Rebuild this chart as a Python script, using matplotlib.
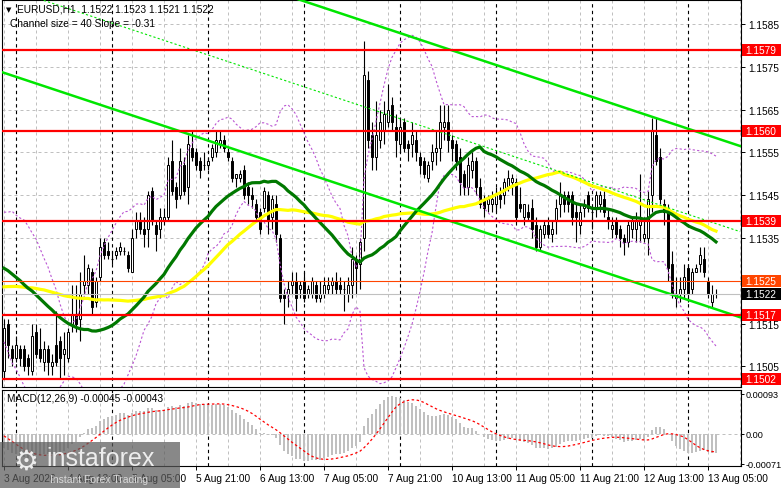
import numpy as np
import pandas as pd
import matplotlib
matplotlib.use("Agg")
import matplotlib.pyplot as plt
import matplotlib.transforms as mtransforms
from matplotlib.patches import Rectangle

plt.rcParams['font.family'] = ['Liberation Sans', 'DejaVu Sans']

# closes of the 50 hours before the first visible bar (estimated, needed for the indicators)
hist_close = [
    1.1505, 1.1507, 1.1506, 1.1509, 1.1511, 1.1510, 1.1513, 1.1512, 1.1515, 1.1517,
    1.1516, 1.1519, 1.1518, 1.1521, 1.1520, 1.1523, 1.1522, 1.1524, 1.1526, 1.1525,
    1.1528, 1.1527, 1.1530, 1.1532, 1.1531, 1.1533, 1.1530, 1.1532, 1.1535, 1.1534,
    1.1536, 1.1533, 1.1531, 1.1534, 1.1532, 1.1530, 1.1533, 1.1531, 1.1529, 1.1532,
    1.1530, 1.1528, 1.1529, 1.1526, 1.1527, 1.1523, 1.1520, 1.1516, 1.1512, 1.1508,
]

# visible H1 bars, bar 0 = 4 Aug 00:00
first_bar = -3
opens = [
    1.1504, 1.1515, 1.1509, 1.1507, 1.1509, 1.1509, 1.1507, 1.1504, 1.1513, 1.1509,
    1.1506, 1.1509, 1.1505, 1.1510, 1.1511, 1.1508, 1.1507, 1.1515, 1.1517, 1.1516,
    1.1524, 1.1524, 1.1527, 1.1520, 1.1526, 1.1534, 1.1532, 1.1530, 1.1531, 1.1532,
    1.1532, 1.1531, 1.1527, 1.1537, 1.1539, 1.1537, 1.1537, 1.1546, 1.1538, 1.1537,
    1.1539, 1.1540, 1.1553, 1.1547, 1.1545, 1.1552, 1.1547, 1.1556, 1.1555, 1.1553,
    1.1552, 1.1552, 1.1554, 1.1555, 1.1557, 1.1558, 1.1555, 1.1553, 1.1549, 1.1549,
    1.1551, 1.1547, 1.1545, 1.1543, 1.1541, 1.1542, 1.1545, 1.1540, 1.1543, 1.1535,
    1.1522, 1.1522, 1.1524, 1.1525, 1.1523, 1.1525, 1.1522, 1.1522, 1.1524, 1.1521,
    1.1522, 1.1523, 1.1524, 1.1525, 1.1524, 1.1523, 1.1522, 1.1524, 1.1530, 1.1529,
    1.1535, 1.1572, 1.1559, 1.1554, 1.1558, 1.1560, 1.1562, 1.1566, 1.1561, 1.1557,
    1.1562, 1.1557, 1.1557, 1.1558, 1.1554, 1.1553, 1.1549, 1.1553, 1.1555, 1.1556,
    1.1561, 1.1562, 1.1558, 1.1557, 1.1554, 1.1550, 1.1547, 1.1551, 1.1553, 1.1547,
    1.1544, 1.1543, 1.1543, 1.1543, 1.1545, 1.1545, 1.1547, 1.1548, 1.1548, 1.1543,
    1.1540, 1.1541, 1.1542, 1.1538, 1.1533, 1.1536, 1.1538, 1.1536, 1.1539, 1.1543,
    1.1545, 1.1545, 1.1545, 1.1541, 1.1538, 1.1542, 1.1545, 1.1541, 1.1542, 1.1543,
    1.1544, 1.1540, 1.1537, 1.1539, 1.1537, 1.1535, 1.1534, 1.1537, 1.1537, 1.1538,
    1.1535, 1.1535, 1.1545, 1.1559, 1.1554, 1.1543, 1.1541, 1.1529, 1.1521, 1.1522,
    1.1523, 1.1528, 1.1523, 1.1527, 1.1529, 1.1530, 1.1525, 1.1520, 1.1522,
]
highs = [
    1.1516, 1.1516, 1.1510, 1.1512, 1.1510, 1.1510, 1.1508, 1.1515, 1.1515, 1.1514,
    1.1511, 1.1510, 1.1508, 1.1518, 1.1512, 1.1513, 1.1514, 1.1524, 1.1524, 1.1527,
    1.1531, 1.1529, 1.1528, 1.1526, 1.1535, 1.1535, 1.1534, 1.1532, 1.1533, 1.1534,
    1.1533, 1.1532, 1.1537, 1.1541, 1.1541, 1.1540, 1.1546, 1.1547, 1.1539, 1.1542,
    1.1542, 1.1554, 1.1558, 1.1548, 1.1556, 1.1554, 1.1559, 1.1560, 1.1556, 1.1554,
    1.1555, 1.1554, 1.1557, 1.1560, 1.1560, 1.1559, 1.1556, 1.1554, 1.1550, 1.1551,
    1.1552, 1.1548, 1.1547, 1.1544, 1.1542, 1.1547, 1.1546, 1.1545, 1.1545, 1.1536,
    1.1523, 1.1525, 1.1527, 1.1527, 1.1525, 1.1527, 1.1524, 1.1526, 1.1525, 1.1525,
    1.1526, 1.1526, 1.1526, 1.1527, 1.1526, 1.1525, 1.1526, 1.1533, 1.1531, 1.1535,
    1.1581, 1.1574, 1.1562, 1.1567, 1.1565, 1.1567, 1.1571, 1.1568, 1.1564, 1.1563,
    1.1563, 1.1558, 1.1562, 1.1560, 1.1555, 1.1554, 1.1553, 1.1557, 1.1560, 1.1566,
    1.1566, 1.1566, 1.1559, 1.1558, 1.1556, 1.1551, 1.1554, 1.1555, 1.1554, 1.1549,
    1.1545, 1.1545, 1.1546, 1.1547, 1.1547, 1.1549, 1.1551, 1.1550, 1.1549, 1.1547,
    1.1543, 1.1543, 1.1544, 1.1540, 1.1538, 1.1539, 1.1540, 1.1539, 1.1544, 1.1548,
    1.1546, 1.1546, 1.1546, 1.1543, 1.1543, 1.1544, 1.1546, 1.1542, 1.1546, 1.1546,
    1.1546, 1.1542, 1.1540, 1.1540, 1.1538, 1.1536, 1.1539, 1.1540, 1.1541, 1.1550,
    1.1540, 1.1546, 1.1563, 1.1563, 1.1556, 1.1544, 1.1543, 1.1532, 1.1526, 1.1526,
    1.1529, 1.1529, 1.1528, 1.1529, 1.1533, 1.1533, 1.1526, 1.1524, 1.1523,
]
lows = [
    1.1502, 1.1507, 1.1505, 1.1506, 1.1505, 1.1504, 1.1503, 1.1503, 1.1507, 1.1506,
    1.1504, 1.1503, 1.1503, 1.1505, 1.1502, 1.1503, 1.1506, 1.1513, 1.1513, 1.1511,
    1.1522, 1.1522, 1.1517, 1.1519, 1.1525, 1.1530, 1.1530, 1.1529, 1.1530, 1.1531,
    1.1531, 1.1527, 1.1527, 1.1535, 1.1536, 1.1533, 1.1533, 1.1538, 1.1532, 1.1535,
    1.1538, 1.1539, 1.1545, 1.1542, 1.1544, 1.1545, 1.1543, 1.1553, 1.1551, 1.1549,
    1.1551, 1.1551, 1.1553, 1.1554, 1.1556, 1.1555, 1.1553, 1.1548, 1.1547, 1.1548,
    1.1544, 1.1543, 1.1542, 1.1539, 1.1536, 1.1541, 1.1536, 1.1537, 1.1534, 1.1520,
    1.1515, 1.1519, 1.1522, 1.1518, 1.1521, 1.1520, 1.1521, 1.1521, 1.1520, 1.1520,
    1.1521, 1.1522, 1.1522, 1.1522, 1.1522, 1.1518, 1.1520, 1.1521, 1.1522, 1.1523,
    1.1532, 1.1556, 1.1551, 1.1551, 1.1556, 1.1557, 1.1561, 1.1560, 1.1554, 1.1555,
    1.1555, 1.1553, 1.1554, 1.1553, 1.1550, 1.1549, 1.1548, 1.1551, 1.1552, 1.1553,
    1.1558, 1.1555, 1.1553, 1.1551, 1.1545, 1.1545, 1.1545, 1.1549, 1.1545, 1.1542,
    1.1540, 1.1541, 1.1541, 1.1541, 1.1542, 1.1543, 1.1546, 1.1545, 1.1538, 1.1541,
    1.1538, 1.1539, 1.1535, 1.1532, 1.1532, 1.1535, 1.1535, 1.1534, 1.1536, 1.1540,
    1.1541, 1.1541, 1.1538, 1.1534, 1.1536, 1.1540, 1.1541, 1.1537, 1.1540, 1.1541,
    1.1540, 1.1537, 1.1535, 1.1535, 1.1533, 1.1531, 1.1533, 1.1535, 1.1534, 1.1534,
    1.1534, 1.1531, 1.1541, 1.1552, 1.1543, 1.1538, 1.1525, 1.1521, 1.1519, 1.1520,
    1.1521, 1.1520, 1.1522, 1.1527, 1.1527, 1.1526, 1.1521, 1.1519, 1.1521,
]
closes = [
    1.1514, 1.1510, 1.1507, 1.1510, 1.1507, 1.1505, 1.1505, 1.1512, 1.1508, 1.1507,
    1.1509, 1.1506, 1.1506, 1.1506, 1.1507, 1.1509, 1.1513, 1.1517, 1.1515, 1.1522,
    1.1525, 1.1528, 1.1519, 1.1525, 1.1533, 1.1531, 1.1531, 1.1530, 1.1532, 1.1533,
    1.1532, 1.1528, 1.1535, 1.1539, 1.1537, 1.1536, 1.1545, 1.1539, 1.1536, 1.1540,
    1.1540, 1.1552, 1.1546, 1.1544, 1.1553, 1.1546, 1.1557, 1.1554, 1.1552, 1.1551,
    1.1552, 1.1553, 1.1556, 1.1558, 1.1558, 1.1556, 1.1554, 1.1549, 1.1550, 1.1550,
    1.1545, 1.1545, 1.1544, 1.1540, 1.1537, 1.1546, 1.1539, 1.1544, 1.1536, 1.1521,
    1.1521, 1.1523, 1.1525, 1.1521, 1.1524, 1.1521, 1.1523, 1.1525, 1.1521, 1.1522,
    1.1524, 1.1524, 1.1525, 1.1523, 1.1523, 1.1523, 1.1524, 1.1530, 1.1528, 1.1534,
    1.1573, 1.1558, 1.1554, 1.1559, 1.1562, 1.1564, 1.1565, 1.1562, 1.1558, 1.1561,
    1.1556, 1.1556, 1.1559, 1.1555, 1.1552, 1.1550, 1.1552, 1.1555, 1.1556, 1.1562,
    1.1562, 1.1558, 1.1556, 1.1553, 1.1548, 1.1547, 1.1552, 1.1553, 1.1547, 1.1543,
    1.1542, 1.1544, 1.1544, 1.1545, 1.1544, 1.1548, 1.1549, 1.1549, 1.1540, 1.1542,
    1.1543, 1.1540, 1.1537, 1.1533, 1.1537, 1.1538, 1.1536, 1.1537, 1.1542, 1.1545,
    1.1543, 1.1543, 1.1540, 1.1540, 1.1541, 1.1543, 1.1542, 1.1541, 1.1545, 1.1545,
    1.1541, 1.1539, 1.1538, 1.1536, 1.1535, 1.1534, 1.1538, 1.1539, 1.1539, 1.1539,
    1.1536, 1.1544, 1.1560, 1.1553, 1.1544, 1.1541, 1.1528, 1.1522, 1.1522, 1.1523,
    1.1526, 1.1522, 1.1527, 1.1528, 1.1531, 1.1527, 1.1522, 1.1522, 1.1522,
]

levels = [1.1579, 1.1560, 1.1539, 1.1517, 1.1502]
ask_level = 1.1525
bid_level = 1.1522

# price channel: lower line end points (bar, price), width 40 pips
chan_start = (-4, 1.15739)
chan_end = (181, 1.15165)
chan_width = 0.0040

xlabels = ["3 Aug 2026", "4 Aug 13:00", "5 Aug 05:00", "5 Aug 21:00", "6 Aug 13:00",
           "7 Aug 05:00", "7 Aug 21:00", "10 Aug 13:00", "11 Aug 05:00", "11 Aug 21:00",
           "12 Aug 13:00", "13 Aug 05:00"]
xlabel_bars = [-3, 13, 29, 45, 61, 77, 93, 109, 125, 141, 157, 173]
day_bars = [0, 24, 48, 72, 96, 120, 144, 168]
price_ticks = [1.1505, 1.1515, 1.1525, 1.1535, 1.1545, 1.1555, 1.1565, 1.1575, 1.1585]
macd_ticks = [0.00093, 0.0, -0.00071]
macd_labels = ["0.00093", "0.00", "-0.00071"]

# indicators
n_hist = len(hist_close)
all_close = pd.Series(hist_close + closes)
ma30 = all_close.rolling(30).mean().iloc[n_hist:].values
ma50 = all_close.rolling(50).mean().iloc[n_hist:].values
bb_mid = all_close.rolling(20).mean()
bb_std = all_close.rolling(20).std(ddof=0)
bb_up = (bb_mid + 2 * bb_std).iloc[n_hist:].values
bb_dn = (bb_mid - 2 * bb_std).iloc[n_hist:].values
ema12 = all_close.ewm(span=12, adjust=False).mean()
ema26 = all_close.ewm(span=26, adjust=False).mean()
macd_all = ema12 - ema26
macd = macd_all.iloc[n_hist:].values
signal = macd_all.rolling(9).mean().iloc[n_hist:].values

bars = np.arange(first_bar, first_bar + len(closes))
o = np.array(opens)
h = np.array(highs)
l = np.array(lows)
c = np.array(closes)

W, H = 781, 489
fig = plt.figure(figsize=(W / 100, H / 100), dpi=100)
fig.patch.set_facecolor("white")
ax = fig.add_axes([2 / W, 1 - 388 / H, 739 / W, 387 / H])
axm = fig.add_axes([2 / W, 1 - 467 / H, 739 / W, 76 / H])

xmin, xmax = -3.5, 181.25
grid_kw = dict(color="#C0C0C0", lw=0.72, dashes=(3, 3), zorder=0.5)
sep_kw = dict(color="black", lw=0.8, dashes=(3, 3), zorder=0.6)

for a in (ax, axm):
    a.set_xlim(xmin, xmax)
    for g in range(-3, 182, 8):
        a.axvline(g, **grid_kw)
    for d in day_bars:
        a.axvline(d, **sep_kw)
    for s in a.spines.values():
        s.set_linewidth(0.8)
        s.set_color("black")

# main chart
ax.set_ylim(1.15002, 1.15906)
for p in price_ticks:
    ax.axhline(p, **grid_kw)

ax.vlines(bars, l, h, color="black", lw=0.8, zorder=2)
up = c >= o
body = np.maximum(np.abs(c - o), 0.000004)
ax.bar(bars[up], body[up], bottom=np.minimum(o, c)[up], width=0.72,
       color="white", edgecolor="black", linewidth=0.7, zorder=2.1)
ax.bar(bars[~up], body[~up], bottom=np.minimum(o, c)[~up], width=0.72,
       color="black", edgecolor="black", linewidth=0.7, zorder=2.1)

ax.plot(bars, bb_up, color="#BA55D3", lw=0.8, dashes=(2, 2), zorder=3)
ax.plot(bars, bb_dn, color="#BA55D3", lw=0.8, dashes=(2, 2), zorder=3)
ax.plot(bars, ma50, color="#FFFF00", lw=2.3, zorder=3.1)
ax.plot(bars, ma30, color="#007800", lw=2.3, zorder=3.2)

cx = np.array([chan_start[0], chan_end[0]])
cy = np.array([chan_start[1], chan_end[1]])
ax.plot(cx, cy, color="#00E600", lw=1.8, zorder=4)
ax.plot(cx, cy + chan_width, color="#00E600", lw=1.8, zorder=4)
ax.plot(cx, cy + chan_width / 2, color="#00E600", lw=0.8, dashes=(2, 2), zorder=4)

for lv in levels:
    ax.axhline(lv, color="#FF0000", lw=1.6, zorder=4.5)
ax.axhline(ask_level, color="#FF4500", lw=0.8, zorder=4.4)
ax.axhline(bid_level, color="#C0C0C0", lw=0.8, zorder=4.4)

ax.set_xticks([])
ax.yaxis.tick_right()
ax.set_yticks(price_ticks)
# the 1.1525 mark sits under the ask tag, so it gets no text
ax.set_yticklabels(["" if p == ask_level else "%.4f" % p for p in price_ticks])
ax.tick_params(axis="y", direction="out", length=3, width=0.7, pad=2, labelsize=7.3)

# price tags on the right scale
tr = mtransforms.blended_transform_factory(ax.transAxes, ax.transData)
half = 6 / 42800
tags = [(lv, "#FF0000") for lv in levels] + [(ask_level, "#FF4500"), (bid_level, "black")]
for lv, col in tags:
    ax.add_patch(Rectangle((1.0015, lv - half), 0.0527, 2 * half, transform=tr,
                           facecolor=col, edgecolor="none", clip_on=False, zorder=10))
    ax.text(1.006, lv, "%.4f" % lv, transform=tr, color="white", fontsize=7.3,
            va="center", ha="left", clip_on=False, zorder=11)

# MACD window
axm.set_ylim(-0.00076, 0.00102)
axm.axhline(0, **grid_kw)
axm.bar(bars, macd, width=0.7, color="#C0C0C0", zorder=2)
axm.plot(bars, signal, color="red", lw=0.9, dashes=(2, 2), zorder=3)
axm.yaxis.tick_right()
axm.set_yticks(macd_ticks)
axm.set_yticklabels(macd_labels)
axm.tick_params(axis="y", direction="out", length=2, width=0.7, pad=1.5, labelsize=6.6)
axm.set_xticks(xlabel_bars)
axm.set_xticklabels(xlabels)
axm.tick_params(axis="x", direction="out", length=3, width=0.7, pad=2, labelsize=7.3)
for t in axm.get_xticklabels():
    t.set_ha("left")

# header texts
fig.text(6 / W, 1 - 10 / H, "\u25bc", fontsize=5, va="center", ha="left",
         family=["DejaVu Sans"])
fig.text(17 / W, 1 - 10 / H, "EURUSD,H1  1.1522 1.1523 1.1521 1.1522", fontsize=7.3,
         va="center", ha="left")
fig.text(10 / W, 1 - 24 / H, "Channel size = 40 Slope = -0.31", fontsize=7.3,
         va="center", ha="left")
fig.text(7 / W, 1 - 399 / H, "MACD(12,26,9) -0.00045 -0.00043", fontsize=7.3,
         va="center", ha="left")

# watermark
fig.patches.append(Rectangle((0, 0), 180 / W, 46 / H, transform=fig.transFigure,
                             facecolor="#5A5A5A", alpha=0.72, edgecolor="none", zorder=20))
fig.text(26 / W, 1 - 462 / H, "\u2699", fontsize=20, color="#EDEDED", va="center",
         ha="center", family=["DejaVu Sans"], zorder=21)
fig.text(46 / W, 1 - 459 / H, "instaforex", fontsize=18, color="#EDEDED", va="center",
         ha="left", zorder=21)
fig.text(50 / W, 1 - 480 / H, "Instant Forex Trading", fontsize=7.5, color="#D8D8D8",
         va="center", ha="left", zorder=21)

fig.savefig("out.png", dpi=100)
